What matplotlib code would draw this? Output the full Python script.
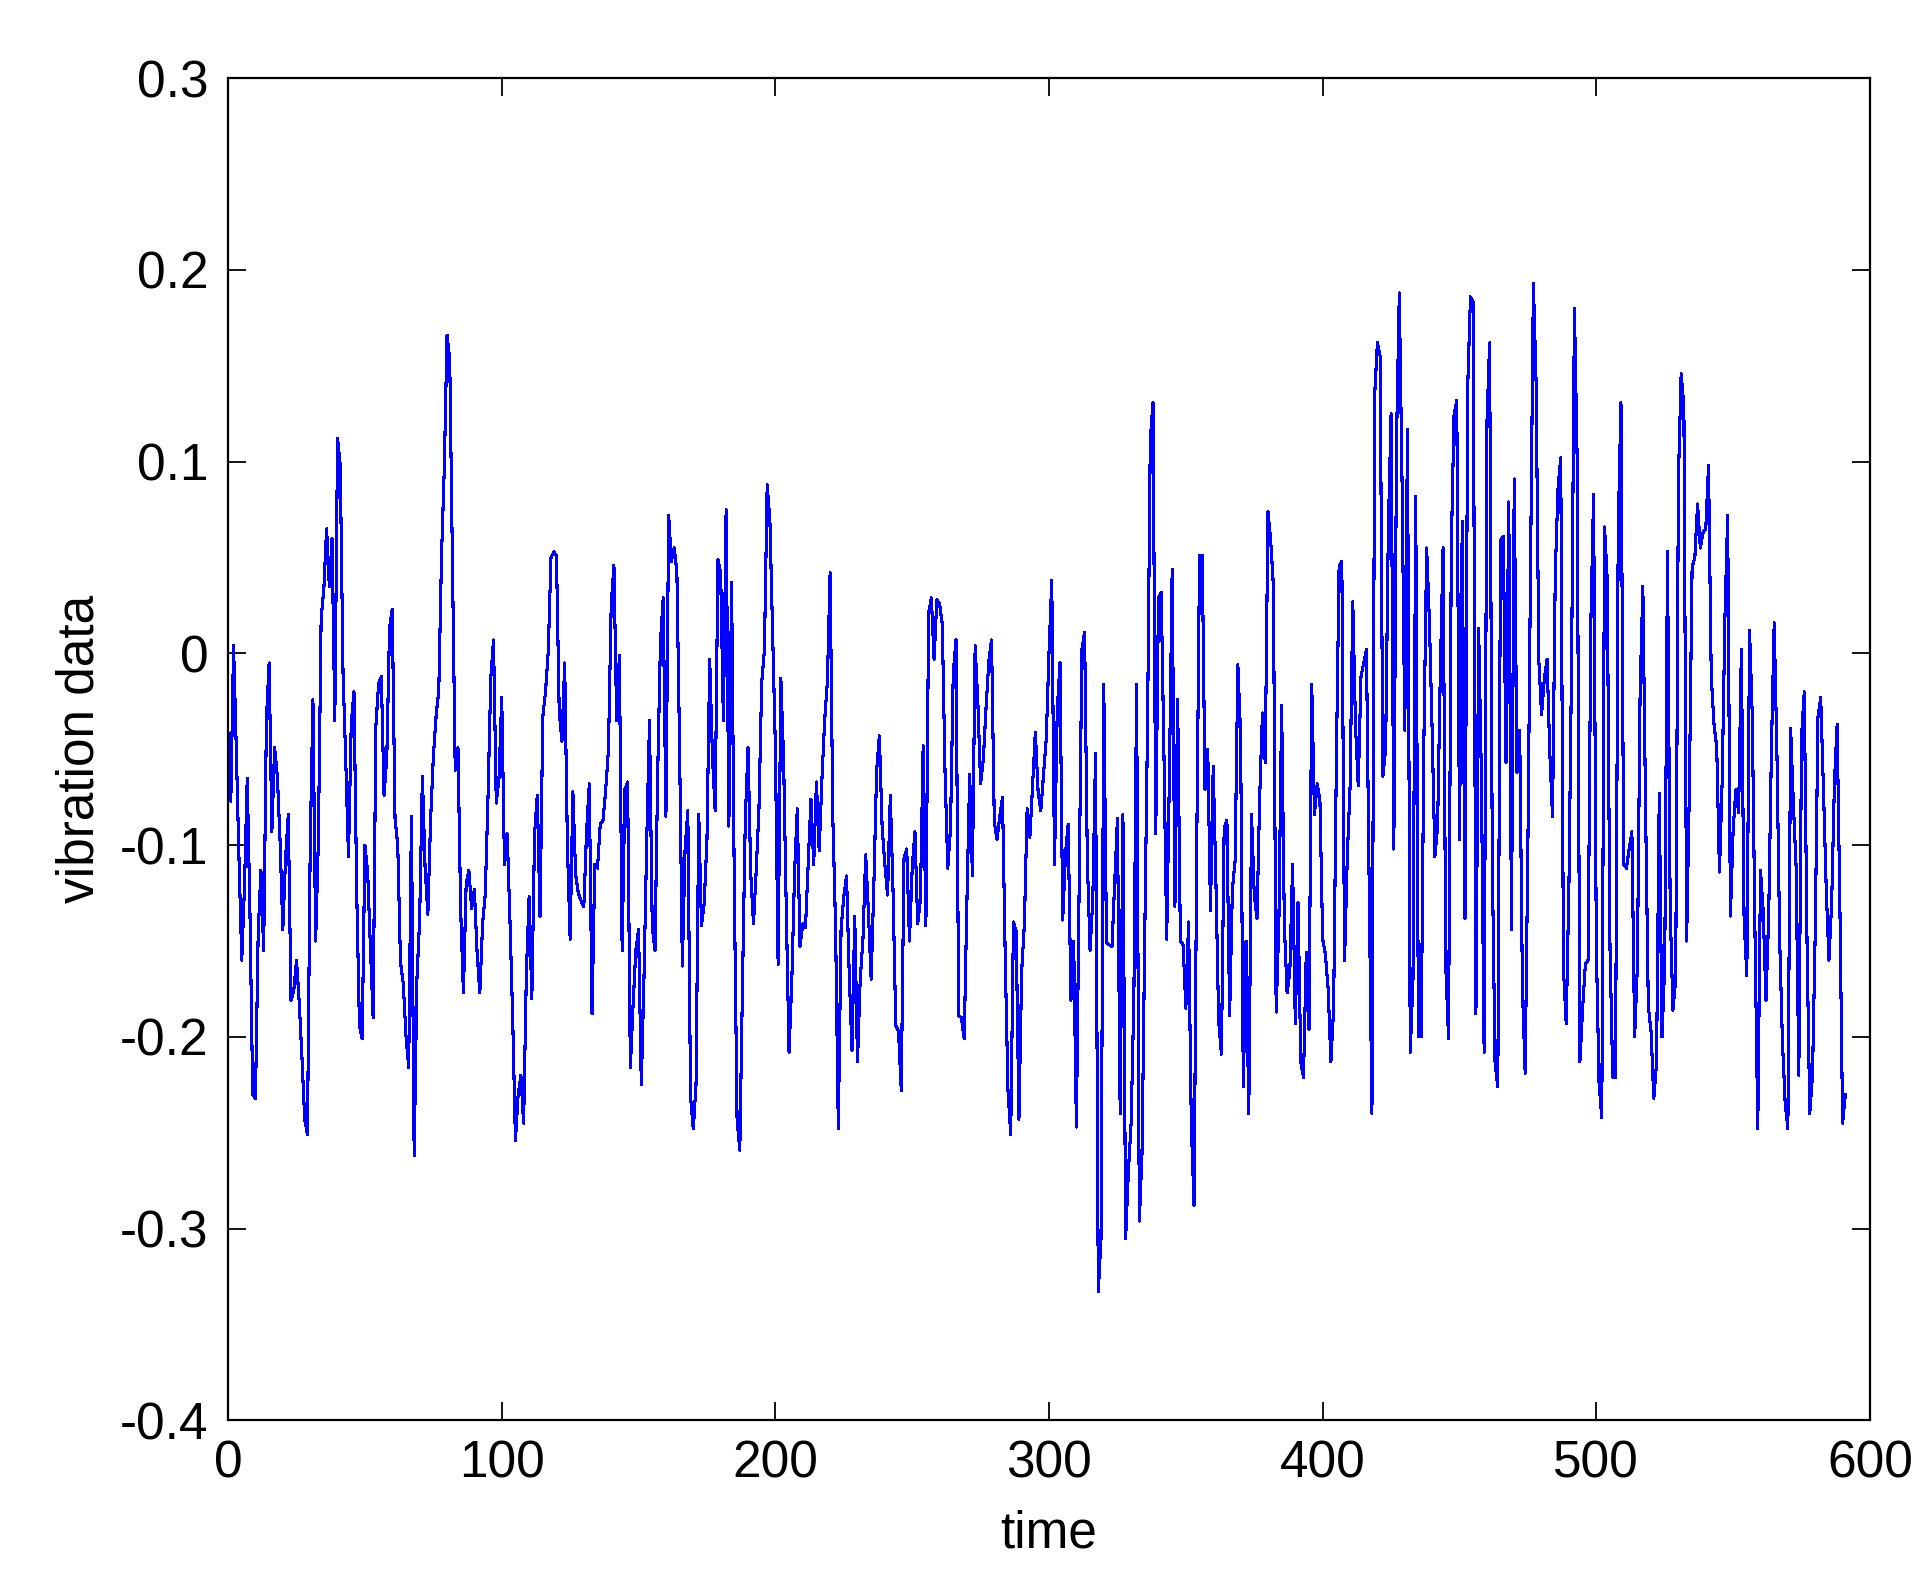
import matplotlib
matplotlib.use("Agg")
import matplotlib.pyplot as plt
import numpy as np

# vibration samples, one per time step (t = 0 .. 591)
vib_0 = [-0.042, -0.077, 0.004, -0.050, -0.108, -0.160, -0.121, -0.065, -0.136, -0.230,
         -0.232, -0.146, -0.113, -0.155, -0.035, -0.005, -0.093, -0.049, -0.064, -0.098,
         -0.144, -0.107, -0.084, -0.181, -0.176, -0.160, -0.182, -0.211, -0.243, -0.251,
         -0.102, -0.024, -0.150, -0.097, 0.018, 0.034, 0.065, 0.035, 0.060, -0.035,
         0.112, 0.098, -0.010, -0.056, -0.106, -0.037, -0.020, -0.124, -0.194, -0.201,
         -0.100, -0.114, -0.153, -0.190, -0.038, -0.016, -0.012, -0.074, -0.054, 0.013]
vib_60 = [0.023, -0.086, -0.100, -0.161, -0.172, -0.199, -0.216, -0.085, -0.262, -0.170,
          -0.139, -0.064, -0.112, -0.136, -0.087, -0.054, -0.033, -0.019, 0.051, 0.096,
          0.166, 0.153, 0.044, -0.061, -0.049, -0.134, -0.177, -0.120, -0.113, -0.133,
          -0.123, -0.156, -0.177, -0.141, -0.125, -0.074, -0.013, 0.007, -0.078, -0.065,
          -0.023, -0.110, -0.094, -0.139, -0.190, -0.254, -0.230, -0.220, -0.245, -0.167,
          -0.127, -0.180, -0.094, -0.074, -0.137, -0.033, -0.020, 0.001, 0.050, 0.053]
vib_120 = [0.051, -0.030, -0.046, -0.005, -0.100, -0.149, -0.072, -0.115, -0.125, -0.129,
           -0.132, -0.093, -0.068, -0.188, -0.110, -0.112, -0.089, -0.087, -0.071, -0.050,
           0.025, 0.046, -0.035, -0.001, -0.155, -0.071, -0.067, -0.216, -0.183, -0.155,
           -0.144, -0.225, -0.168, -0.097, -0.035, -0.142, -0.155, -0.062, 0.006, 0.029,
           -0.085, 0.072, 0.048, 0.055, 0.043, -0.050, -0.163, -0.102, -0.082, -0.231,
           -0.248, -0.225, -0.084, -0.142, -0.130, -0.097, -0.003, -0.054, -0.082, 0.049]
vib_180 = [0.042, -0.035, 0.075, -0.090, 0.037, -0.123, -0.243, -0.259, -0.171, -0.087,
           -0.049, -0.115, -0.141, -0.113, -0.081, -0.015, 0.002, 0.088, 0.069, 0.010,
           -0.049, -0.162, -0.013, -0.055, -0.135, -0.208, -0.171, -0.115, -0.081, -0.153,
           -0.141, -0.143, -0.110, -0.076, -0.110, -0.067, -0.103, -0.066, -0.035, -0.015,
           0.042, -0.086, -0.143, -0.248, -0.144, -0.127, -0.116, -0.168, -0.207, -0.137,
           -0.213, -0.170, -0.149, -0.105, -0.135, -0.170, -0.120, -0.061, -0.043, -0.090]
vib_240 = [-0.110, -0.126, -0.074, -0.124, -0.194, -0.197, -0.228, -0.107, -0.102, -0.150,
           -0.112, -0.093, -0.141, -0.128, -0.048, -0.142, 0.021, 0.029, -0.003, 0.028,
           0.026, 0.015, -0.062, -0.112, -0.091, -0.010, 0.007, -0.189, -0.190, -0.201,
           -0.129, -0.063, -0.116, 0.004, -0.026, -0.068, -0.055, -0.028, -0.004, 0.007,
           -0.088, -0.097, -0.085, -0.075, -0.159, -0.228, -0.251, -0.140, -0.145, -0.243,
           -0.166, -0.141, -0.081, -0.096, -0.068, -0.041, -0.072, -0.082, -0.063, -0.044]
vib_300 = [0.001, 0.038, -0.110, -0.030, -0.005, -0.139, -0.105, -0.089, -0.181, -0.150,
           -0.247, -0.124, 0.002, 0.011, -0.108, -0.155, -0.128, -0.052, -0.333, -0.305,
           -0.016, -0.151, -0.152, -0.153, -0.119, -0.086, -0.240, -0.084, -0.305, -0.270,
           -0.245, -0.180, -0.016, -0.296, -0.260, -0.145, -0.037, 0.111, 0.131, -0.094,
           0.029, 0.032, -0.053, -0.149, -0.063, 0.044, -0.132, -0.024, -0.150, -0.152,
           -0.185, -0.140, -0.246, -0.288, -0.097, 0.051, 0.051, -0.071, -0.050, -0.134]
vib_360 = [-0.059, -0.120, -0.192, -0.209, -0.091, -0.087, -0.189, -0.123, -0.108, -0.006,
           -0.042, -0.226, -0.150, -0.240, -0.084, -0.126, -0.138, -0.074, -0.031, -0.057,
           0.074, 0.059, 0.035, -0.187, -0.140, -0.027, -0.142, -0.177, -0.166, -0.110,
           -0.193, -0.130, -0.213, -0.221, -0.156, -0.196, -0.016, -0.084, -0.068, -0.077,
           -0.149, -0.157, -0.175, -0.213, -0.185, -0.056, 0.045, 0.048, -0.160, -0.106,
           -0.070, 0.027, -0.038, -0.069, -0.012, -0.005, 0.002, -0.122, -0.240, 0.135]
vib_420 = [0.162, 0.155, -0.064, -0.050, 0.065, 0.125, -0.102, 0.112, 0.188, 0.090,
           -0.040, 0.117, -0.208, -0.170, 0.082, -0.200, -0.200, -0.044, 0.055, 0.017,
           -0.040, -0.106, -0.090, -0.009, 0.055, -0.164, -0.201, 0.055, 0.124, 0.132,
           -0.097, 0.069, -0.138, 0.139, 0.186, 0.183, -0.188, 0.013, -0.064, -0.208,
           0.119, 0.162, -0.110, -0.214, -0.226, 0.059, 0.061, -0.057, 0.079, -0.144,
           0.091, -0.062, -0.040, -0.175, -0.219, -0.099, 0.051, 0.193, 0.141, -0.004]
vib_480 = [-0.032, -0.013, -0.003, -0.052, -0.085, 0.042, 0.086, 0.102, -0.165, -0.193,
           -0.120, 0.001, 0.180, 0.101, -0.213, -0.185, -0.162, -0.160, 0.016, 0.083,
           -0.153, -0.224, -0.242, 0.066, 0.038, -0.154, -0.221, -0.221, 0.064, 0.131,
           -0.110, -0.112, -0.102, -0.093, -0.200, -0.163, -0.020, 0.035, -0.081, -0.184,
           -0.197, -0.232, -0.214, -0.073, -0.200, -0.162, 0.053, -0.134, -0.186, -0.170,
           0.091, 0.146, 0.129, -0.150, -0.071, 0.045, 0.050, 0.078, 0.055, 0.063]
vib_540 = [0.065, 0.098, -0.012, -0.037, -0.049, -0.114, -0.066, 0.019, 0.072, -0.137,
           -0.092, -0.071, -0.083, 0.002, -0.139, -0.168, 0.012, -0.033, -0.148, -0.248,
           -0.113, -0.135, -0.181, -0.136, -0.049, 0.016, -0.052, -0.149, -0.202, -0.234,
           -0.248, -0.039, -0.078, -0.111, -0.220, -0.043, -0.020, -0.151, -0.240, -0.220,
           -0.145, -0.033, -0.023, -0.071, -0.122, -0.160, -0.130, -0.068, -0.037, -0.131,
           -0.245, -0.230]

vibration = (vib_0 + vib_60 + vib_120 + vib_180 + vib_240 + vib_300
             + vib_360 + vib_420 + vib_480 + vib_540)
time = np.arange(len(vibration))

xticks = [0, 100, 200, 300, 400, 500, 600]
yticks = [-0.4, -0.3, -0.2, -0.1, 0, 0.1, 0.2, 0.3]
yticklabels = ["-0.4", "-0.3", "-0.2", "-0.1", "0", "0.1", "0.2", "0.3"]

plt.rcParams["font.family"] = ["Liberation Sans", "DejaVu Sans"]

fig = plt.figure(figsize=(19.28, 15.77), dpi=100)
ax = fig.add_axes([0.1183, 0.0993, 0.8516, 0.8511])

ax.plot(time, vibration, color="#0000ff", linewidth=1.5, antialiased=False)

ax.set_xlim(0, 600)
ax.set_ylim(-0.4, 0.3)
ax.set_xticks(xticks)
ax.set_yticks(yticks)
ax.set_yticklabels(yticklabels)
ax.tick_params(direction="in", length=13, width=1.3, labelsize=37,
               top=True, right=True, pad=14)
for s in ax.spines.values():
    s.set_linewidth(1.6)

ax.set_xlabel("time", fontsize=37, labelpad=15)
ax.set_ylabel("vibration data", fontsize=37, labelpad=11)

fig.savefig("out.png", dpi=100)
